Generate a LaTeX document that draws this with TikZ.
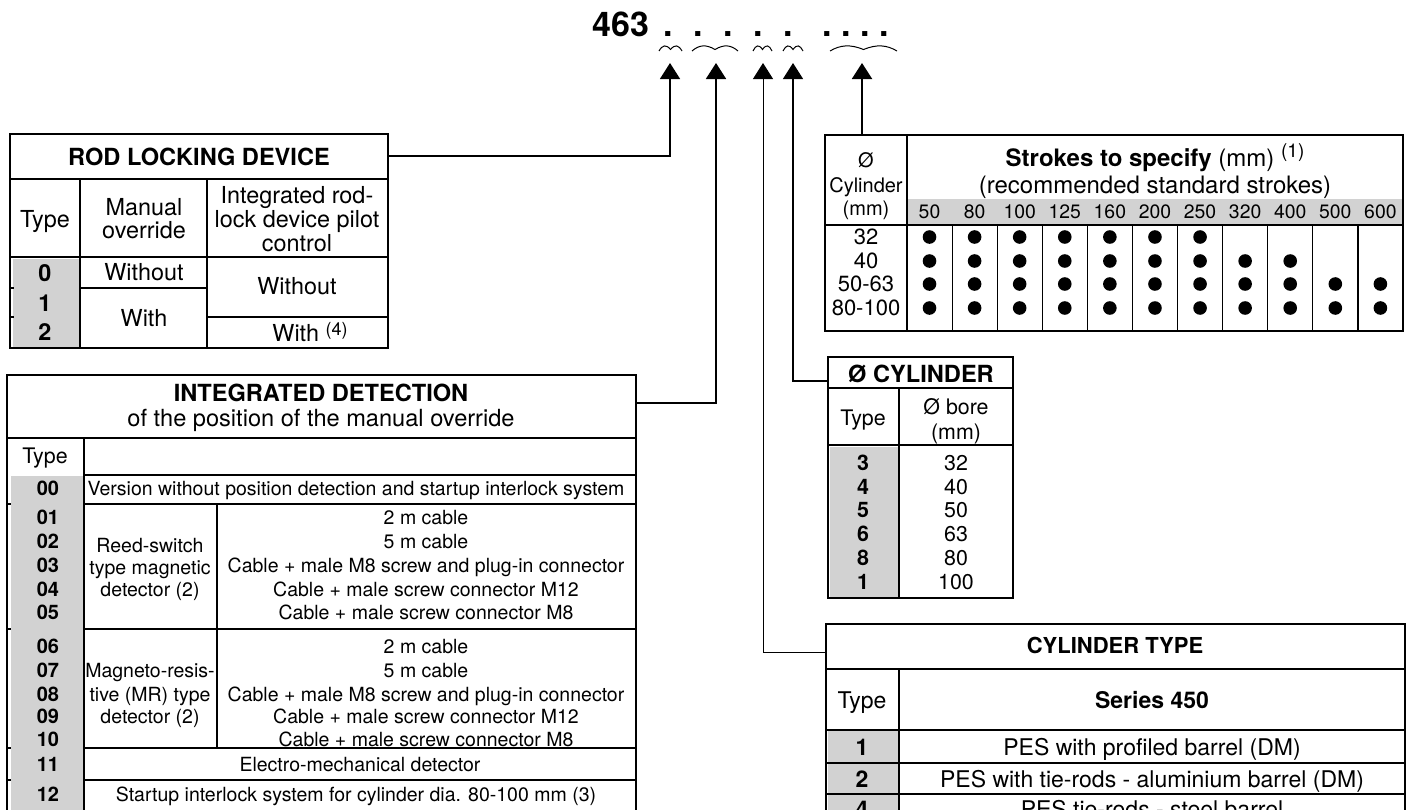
\documentclass[tikz,border=0pt]{standalone}
\usepackage{fontspec}
\setmainfont{TeX Gyre Heros}
\usetikzlibrary{arrows.meta}
\definecolor{cellgray}{RGB}{210,210,210}
\begin{document}
\begin{tikzpicture}[x=0.5pt,y=-0.5pt,
  t/.style={font=\fontsize{#1}{#1}\selectfont,inner sep=0pt,anchor=base,yshift=-0.36*#1pt},
  tb/.style={font=\fontsize{#1}{#1}\selectfont\bfseries,inner sep=0pt,anchor=base,yshift=-0.36*#1pt},
  frame/.style={line width=1pt},
  rule/.style={line width=0.6pt},
  hrule/.style={line width=0.9pt},
  conn/.style={-{Triangle[length=8pt,width=10pt]}},
  brace/.style={line width=0.5pt},
  cell/.style={fill=cellgray}
]
\useasboundingbox (0,0) rectangle (1412,809);
\clip (0,0) rectangle (1412,809);
\fill[white] (0,0) rectangle (1412,809);

% ---------- title ----------
\node[tb=17] (title) at (621,24) {463};
\foreach \x [count=\i] in {668,698,728,758,788,827,846,865,884}
  \node[tb=17] (dot\i) at (\x,24) {.};
\foreach \a/\b [count=\i] in {659/682,692/738,753/772,783/803,830/897}{
  \pgfmathsetmacro\m{(\a+\b)/2}
  \pgfmathsetmacro\w{(\b-\a)/2}
  \draw[brace] (\a,51) .. controls (\a+0.3*\w,45) and (\m-0.4*\w,44) .. (\m,49.5)
     .. controls (\m+0.4*\w,44) and (\b-0.3*\w,45) .. (\b,51);
}
\coordinate (a1) at (670,63);
\coordinate (a2) at (716,63);
\coordinate (a3) at (763,63);
\coordinate (a4) at (793,63);
\coordinate (a5) at (862,63);

% ---------- ROD LOCKING DEVICE ----------
\fill[cell] (13,259) rectangle (80,347);
\draw[rule] (10,179) -- (388,179);
\draw[rule] (80,179) -- (80,348);
\draw[rule] (207,179) -- (207,348);
\draw[hrule] (10,257) -- (388,257);
\draw[rule] (80,288) -- (207,288);
\draw[rule] (207,317) -- (388,317);
\draw[rule] (10,288) -- (14,288);
\draw[rule] (10,317) -- (14,317);
\draw[frame] (10,134) rectangle (388,348);
\node[tb=11.8] (rodhdr) at (199,157) {ROD LOCKING DEVICE};
\node[t=11.7] (rodtype) at (45,219) {Type};
\node[t=11.7] (rodman1) at (144,207) {Manual};
\node[t=11.7] (rodman2) at (144,230) {override};
\node[t=11.7] (rodint1) at (297,195) {Integrated rod-};
\node[t=11.7] (rodint2) at (297,219) {lock device pilot};
\node[t=11.7] (rodint3) at (297,243) {control};
\node[tb=11.7] (rod0) at (45,273) {0};
\node[tb=11.7] (rod1) at (45,303) {1};
\node[tb=11.7] (rod2) at (45,332) {2};
\node[t=11.7] (rodw0) at (144,272) {Without};
\node[t=11.7] (rodw1) at (144,318) {With};
\node[t=11.7] (rodi0) at (297,286) {Without};
\node[t=11.7] (rodi1) at (310,333) {With \raisebox{3pt}{\fontsize{9}{9}\selectfont(4)}};
\coordinate (rodC) at (388,156);

% ---------- INTEGRATED DETECTION ----------
\draw[rule] (7,438) -- (636,438);
\draw[hrule] (84,475) -- (636,475);
\draw[rule] (7,504) -- (636,504);
\draw[rule] (7,629) -- (636,629);
\draw[rule] (7,748) -- (636,748);
\draw[rule] (7,780) -- (636,780);
\fill[cell] (11,476) rectangle (84,830);
\draw[rule] (84,438) -- (84,830);
\draw[rule] (217,504) -- (217,748);
\draw[frame] (7,830) -- (7,375) -- (636,375) -- (636,830);
\node[tb=11.8] (dethdr) at (321,393) {INTEGRATED DETECTION};
\node[t=11.8] (detsub) at (321,418) {of the position of the manual override};
\node[t=10.7] (dettype) at (45,456) {Type};
\foreach \n/\y in {00/488,01/517,02/541,03/565,04/589,05/612,06/646,07/670,08/694,09/716,10/739,11/764,12/794}
  \node[tb=10] (n\n) at (48,\y) {\n};
\node[t=9.75] (v00) at (356,488) {Version without position detection and startup interlock system};
\foreach \s/\y [count=\i] in {Reed-switch/545,type magnetic/567,detector (2)/589}
  \node[t=9.75] (reed\i) at (150,\y) {\s};
\foreach \s/\y [count=\i] in {2 m cable/517,5 m cable/541,Cable + male M8 screw and plug-in connector/565,Cable + male screw connector M12/589,Cable + male screw connector M8/612}
  \node[t=9.75] (reedc\i) at (426,\y) {\s};
\foreach \s/\y [count=\i] in {Magneto-resis-/670,tive (MR) type/694,detector (2)/716}
  \node[t=9.75] (mag\i) at (150,\y) {\s};
\foreach \s/\y [count=\i] in {2 m cable/646,5 m cable/670,Cable + male M8 screw and plug-in connector/694,Cable + male screw connector M12/716,Cable + male screw connector M8/739}
  \node[t=9.75] (magc\i) at (426,\y) {\s};
\node[t=9.75] (v11) at (360,764) {Electro-mechanical detector};
\node[t=9.75] (v12) at (356,794) {Startup interlock system for cylinder dia. 80-100 mm (3)};
\coordinate (detC) at (636,403);

% ---------- STROKES ----------
\fill[cell] (907,199) rectangle (1403,224);
\draw[rule] (907,135) -- (907,331);
\draw[rule] (825,225) -- (1403,225);
\foreach \k in {1,...,10}
  \draw[rule] ({907+45.09*\k},225) -- ({907+45.09*\k},331);
\draw[frame] (825,135) rectangle (1403,331);
\node[t=10] (scyl1) at (866,160) {Ø};
\node[t=10] (scyl2) at (866,185) {Cylinder};
\node[t=10] (scyl3) at (866,208) {(mm)};
\node[t=12] (shdr1) at (1155,158) {\textbf{Strokes to specify} (mm) \raisebox{4.5pt}{\fontsize{9.5}{9.5}\selectfont(1)}};
\node[t=12] (shdr2) at (1155,185) {(recommended standard strokes)};
\foreach \v [count=\i] in {50,80,100,125,160,200,250,320,400,500,600}
  \node[t=9.7] (sv\i) at ({929.5+45.09*(\i-1)},212) {\v};
\foreach \s/\y [count=\i] in {32/237,40/261,50-63/284,80-100/308}
  \node[t=11] (sr\i) at (866,\y) {\s};
\foreach \n/\y in {7/237,9/261,11/284,11/308}
  \foreach \i in {1,...,\n}
    \fill ({929.5+45.09*(\i-1)},\y) circle[radius=3.4pt];
\coordinate (strC) at (862,135);

% ---------- O CYLINDER ----------
\fill[cell] (830,447) rectangle (899,597);
\draw[rule] (828,388) -- (1013,388);
\draw[rule] (899,388) -- (899,598);
\draw[hrule] (828,445) -- (1013,445);
\draw[frame] (828,357) rectangle (1013,598);
\node[tb=11.8] (borhdr) at (921,374) {Ø CYLINDER};
\node[t=10.7] (bortype) at (863,418) {Type};
\node[t=10.7] (borb1) at (956,407) {Ø bore};
\node[t=10.7] (borb2) at (956,432) {(mm)};
\foreach \n/\v/\y [count=\i] in {3/32/463,4/40/487,5/50/510,6/63/534,8/80/558,1/100/582}{
  \node[tb=10.7] (bn\i) at (863,\y) {\n};
  \node[t=10.7] (bv\i) at (956,\y) {\v};
}
\coordinate (borC) at (828,381);

% ---------- CYLINDER TYPE ----------
\fill[cell] (828,731) rectangle (899,830);
\draw[hrule] (826,669) -- (1405,669);
\draw[rule] (899,669) -- (899,830);
\draw[hrule] (826,730) -- (1405,730);
\draw[rule] (826,763) -- (1405,763);
\draw[rule] (826,794) -- (1405,794);
\draw[frame] (826,830) -- (826,624) -- (1405,624) -- (1405,830);
\node[tb=11] (typhdr) at (1115,646) {CYLINDER TYPE};
\node[t=11.5] (typtype) at (862,700) {Type};
\node[tb=11.5] (typser) at (1152,700) {Series 450};
\foreach \n/\s/\y [count=\i] in {1/PES with profiled barrel (DM)/747,2/PES with tie-rods - aluminium barrel (DM)/779,4/PES tie-rods - steel barrel/809}{
  \node[tb=11.5] (tn\i) at (862,\y) {\n};
  \node[t=11.5] (ts\i) at (1152,\y) {\s};
}
\coordinate (typC) at (826,652);

% ---------- connectors ----------
\draw[conn,line width=0.7pt] (rodC) -| (a1);
\draw[conn,line width=0.9pt] (detC) -| (a2);
\draw[conn,line width=0.5pt] (typC) -| (a3);
\draw[conn,line width=0.6pt] (borC) -| (a4);
\draw[conn,line width=1pt] (strC) -- (a5);
\end{tikzpicture}
\end{document}
